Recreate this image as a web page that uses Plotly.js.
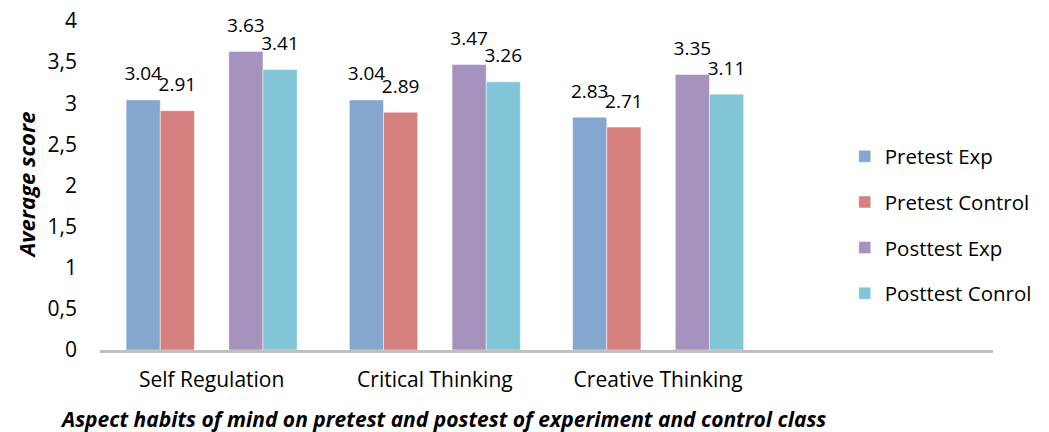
<!DOCTYPE html>
<html>
<head>
<meta charset="utf-8">
<script src="https://cdn.plot.ly/plotly-3.0.1.min.js"></script>
<style>html,body{margin:0;padding:0;background:#fff;}#chart{width:1049px;height:432px;}</style>
</head>
<body>
<div id="chart"></div>
<script>
var categories = ["Self Regulation", "Critical Thinking", "Creative Thinking"];
var seriesNames = ["Pretest Exp", "Pretest Control", "Posttest Exp", "Posttest Conrol"];
var pretestExp = [3.04, 3.04, 2.83];
var pretestControl = [2.91, 2.89, 2.71];
var posttestExp = [3.63, 3.47, 3.35];
var posttestControl = [3.41, 3.26, 3.11];
var yTickVals = [0, 0.5, 1, 1.5, 2, 2.5, 3, 3.5, 4];
var yTitle = "Average score";
var xTitle = "Aspect habits of mind on pretest and postest of experiment and control class";

var colors = ["#84A6CF", "#D68180", "#A692BF", "#81C5D6"];
var barWidth = 0.153;
var centerOffsets = [-0.3065, -0.1535, 0.1535, 0.3065];
var allValues = [pretestExp, pretestControl, posttestExp, posttestControl];
var font = "'Open Sans', sans-serif";
var catIdx = categories.map(function (c, i) { return i; });

var traces = [];
allValues.forEach(function (vals, i) {
  var xs = catIdx.map(function (k) { return k + centerOffsets[i]; });
  traces.push({
    type: "bar",
    name: seriesNames[i],
    x: xs,
    y: vals,
    width: barWidth,
    marker: {color: colors[i], line: {color: "rgba(255,255,255,0.6)", width: 0.8}},
    legendgroup: "g" + i,
    hoverinfo: "none"
  });
});
allValues.forEach(function (vals, i) {
  var xs = catIdx.map(function (k) { return k + centerOffsets[i]; });
  traces.push({
    type: "scatter",
    mode: "markers+text",
    x: xs,
    y: vals,
    text: vals.map(function (v) { return v.toFixed(2); }),
    textposition: "top center",
    textfont: {family: font, size: 19, color: "#000"},
    marker: {size: 22, opacity: 0},
    cliponaxis: false,
    showlegend: false,
    hoverinfo: "none"
  });
});

var layout = {
  width: 1049, height: 432,
  margin: {l: 100, r: 53, t: 21, b: 82},
  paper_bgcolor: "#fff", plot_bgcolor: "#fff",
  separators: ", ",
  showlegend: true,
  font: {family: font, size: 21, color: "#000"},
  xaxis: {
    range: [-0.5, 3.5],
    tickvals: catIdx,
    ticktext: categories,
    showline: true, linecolor: "#c0c0c0", linewidth: 3,
    showgrid: false, zeroline: false, ticks: "",
    ticklabelstandoff: 9,
    tickfont: {family: font, size: 21, color: "#000"}
  },
  yaxis: {
    range: [0, 4],
    tickvals: yTickVals,
    showgrid: false, zeroline: false, showline: false, ticks: "",
    ticklabelstandoff: 22,
    tickfont: {family: font, size: 21, color: "#000"}
  },
  legend: {
    x: 0.834, xanchor: "left",
    y: 0.38, yanchor: "middle",
    font: {family: font, size: 20.5, color: "#000"},
    traceorder: "grouped",
    tracegroupgap: 16,
    bgcolor: "rgba(0,0,0,0)"
  },
  annotations: [
    {text: "<b><i>" + yTitle + "</i></b>", xref: "paper", yref: "paper", x: 0, y: 0.5,
     xshift: -75, textangle: -90, showarrow: false, font: {family: font, size: 22, color: "#000"},
     xanchor: "center", yanchor: "middle"},
    {text: "<b><i>" + xTitle + "</i></b>", xref: "paper", yref: "paper", x: 0, y: 0,
     xshift: -42, yshift: -69, showarrow: false, font: {family: font, size: 21, color: "#000"},
     xanchor: "left", yanchor: "middle"}
  ]
};

Plotly.newPlot("chart", traces, layout, {displayModeBar: false, staticPlot: true});
</script>
</body>
</html>
